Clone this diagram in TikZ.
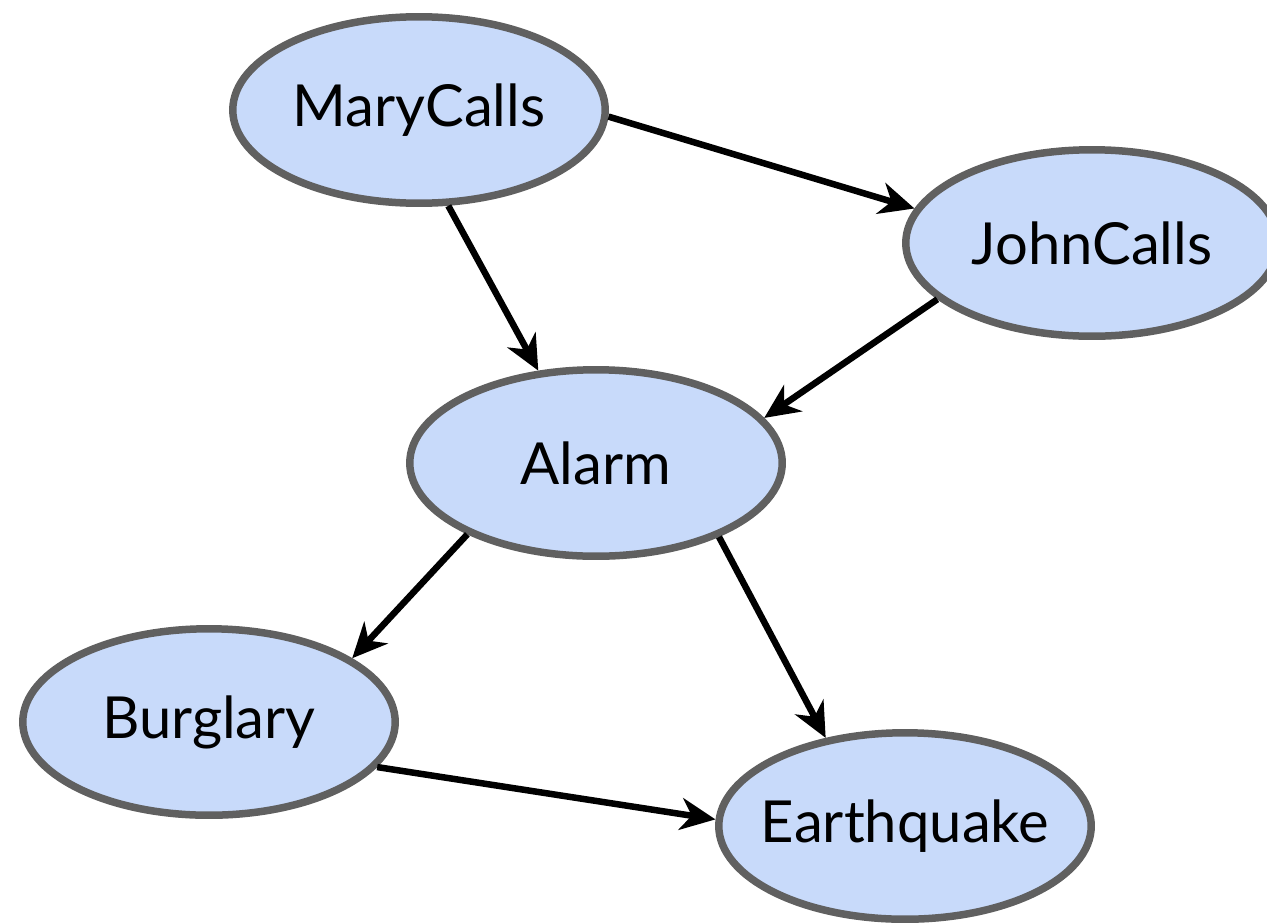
\documentclass[tikz,border=0pt]{standalone}
\usepackage{fontspec}
\setmainfont{Lato}
\usetikzlibrary{shapes.geometric,arrows.meta}

\begin{document}
\begin{tikzpicture}[x=0.02cm,y=-0.02cm,
	var/.style={shape=ellipse, draw=ellgray, fill=ellblue, line width=0.15cm,
		minimum width=7.45cm, minimum height=3.73cm, inner ysep=0pt, inner xsep=-0.5cm,
		font=\fontsize{33}{40}\selectfont},
	dep/.style={line width=0.13cm,
		-{Stealth[length=0.7cm,width=0.64cm,inset=0.22cm]}}]
	\definecolor{ellblue}{RGB}{200,218,250}
	\definecolor{ellgray}{RGB}{96,96,96}
	\useasboundingbox (0,0) rectangle (1267,923);

	\node[var] (M) at (419,110) {MaryCalls};
	\node[var] (J) at (1092,243) {JohnCalls};
	\node[var] (A) at (596,463) {Alarm};
	\node[var] (B) at (209,722) {Burglary};
	\node[var] (E) at (905,826) {Earthquake};

	\path [dep]
	(M.-2.4) edge (J.169.7)
	(M.-73.6) edge (A.122.8)
	(J.200.9) edge (A.15.7)
	(A.209.8) edge (B.24)
	(A.-31.7) edge (E.132.9)
	(B.-15.2) edge (E.178.2);
\end{tikzpicture}
\end{document}
